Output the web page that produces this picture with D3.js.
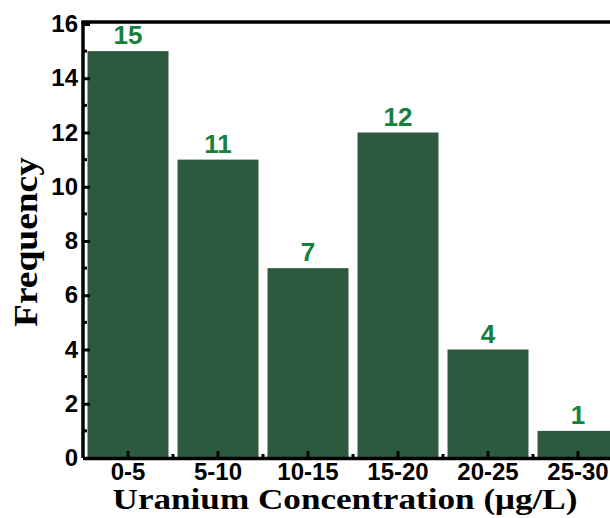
<!DOCTYPE html>
<html>
<head>
<meta charset="utf-8">
<script src="https://cdn.jsdelivr.net/npm/d3@7"></script>
<style>
	html, body { margin: 0; padding: 0; background: #fff; overflow: hidden; }
	svg { display: block; }
</style>
</head>
<body>
<div id="chart"></div>
<script>
// --- data ---
var categories = ["0-5", "5-10", "10-15", "15-20", "20-25", "25-30"];
var frequency = [15, 11, 7, 12, 4, 1];
var yTicks = [0, 2, 4, 6, 8, 10, 12, 14, 16];

var width = 610, height = 518
	, plotLeft = 83, plotTop = 24, plotBottom = 458
	, step = 90  // band step, the last band runs past the edge (cropped figure)
	, barColor = "#2c5a3f", labelColor = "#16803c";

var svg = d3.select("#chart").append("svg")
	.attr("width", width)
	.attr("height", height);

var x = d3.scaleBand()
	.domain(categories)
	.range([plotLeft, plotLeft + step * categories.length])
	.paddingInner(0.1)
	.paddingOuter(0.05);

var y = d3.scaleLinear()
	.domain([0, 16])
	.range([plotBottom, plotTop]);

// --- bars --- \\
svg.selectAll(".bar").data(frequency).enter().append("rect")
	.attr("class", "bar")
	.attr("x", function (d, i) { return x(categories[i]); })
	.attr("y", function (d) { return y(d); })
	.attr("width", x.bandwidth())
	.attr("height", function (d) { return y(0) - y(d); })
	.attr("fill", barColor);

// value labels on top
svg.selectAll(".val").data(frequency).enter().append("text")
	.attr("class", "val")
	.attr("x", function (d, i) { return x(categories[i]) + x.bandwidth() / 2; })
	.attr("y", function (d) { return y(d) - 7; })
	.attr("text-anchor", "middle")
	.attr("font-family", "Liberation Sans, Arial, sans-serif")
	.attr("font-weight", "bold")
	.attr("font-size", "26px")
	.attr("fill", labelColor)
	.text(function (d) { return d; });

// --- axes --- \\
var yAxis = d3.axisLeft(y)
	.tickValues(yTicks)
	.tickSizeInner(-7)
	.tickSizeOuter(0)
	.tickPadding(5);

var gy = svg.append("g")
	.attr("transform", "translate(" + plotLeft + ",0)")
	.call(yAxis);

// minor ticks on odd values
gy.selectAll(".minor").data(d3.range(1, 16, 2)).enter().append("line")
	.attr("class", "minor")
	.attr("x1", 0).attr("x2", 4)
	.attr("y1", function (d) { return y(d); })
	.attr("y2", function (d) { return y(d); })
	.attr("stroke", "#000").attr("stroke-width", 3);

var xAxis = d3.axisBottom(x)
	.tickSizeInner(-7)
	.tickSizeOuter(0)
	.tickPadding(5);

var gx = svg.append("g")
	.attr("transform", "translate(0," + plotBottom + ")")
	.call(xAxis);

// minor ticks between bars
var edges = categories.slice(1).map(function (c) { return x(c) - x.step() * x.paddingInner() / 2; });
gx.selectAll(".minor").data(edges).enter().append("line")
	.attr("class", "minor")
	.attr("x1", function (d) { return d; })
	.attr("x2", function (d) { return d; })
	.attr("y1", 0).attr("y2", -4)
	.attr("stroke", "#000").attr("stroke-width", 3);

[gx, gy].forEach(function (g) {
	g.select(".domain").attr("stroke", "#000").attr("stroke-width", 3.5);
	g.selectAll(".tick line").attr("stroke", "#000").attr("stroke-width", 3);
	g.selectAll(".tick text")
		.attr("fill", "#000")
		.attr("font-family", "Liberation Sans, Arial, sans-serif")
		.attr("font-weight", "bold");
});
gx.selectAll(".tick text").attr("font-size", "24px");
gy.selectAll(".tick text").attr("font-size", "24px");

// left axis extended to the frame, top frame line
gy.select(".domain").attr("d", "M0," + (plotTop - 3) + "V" + plotBottom);
svg.append("line")
	.attr("x1", plotLeft - 1.5).attr("x2", width)
	.attr("y1", plotTop - 2).attr("y2", plotTop - 2)
	.attr("stroke", "#000").attr("stroke-width", 3.5);

// --- titles --- \\
svg.append("text")
	.attr("x", 345).attr("y", 509)
	.attr("text-anchor", "middle")
	.attr("font-family", "Liberation Serif, Times New Roman, serif")
	.attr("font-weight", "bold")
	.attr("font-size", "30px")
	.attr("textLength", 465)
	.attr("lengthAdjust", "spacingAndGlyphs")
	.text("Uranium Concentration (\u03bcg/L)");

svg.append("text")
	.attr("transform", "translate(37,242) rotate(-90)")
	.attr("text-anchor", "middle")
	.attr("font-family", "Liberation Serif, Times New Roman, serif")
	.attr("font-weight", "bold")
	.attr("font-size", "33px")
	.attr("textLength", 170)
	.attr("lengthAdjust", "spacingAndGlyphs")
	.text("Frequency");
</script>
</body>
</html>
